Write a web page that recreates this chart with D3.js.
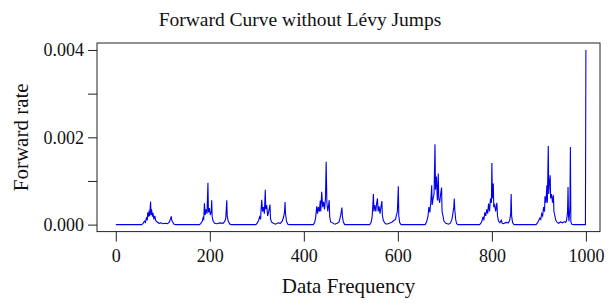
<!DOCTYPE html>
<html>
<head>
<meta charset="utf-8">
<script src="https://cdn.jsdelivr.net/npm/d3@7"></script>
<style>
  body { margin: 0; background: #fff; }
  text { font-family: "Liberation Serif", "Times New Roman", serif; fill: #111; }
</style>
</head>
<body>
<script>
// Forward curve: [data frequency, forward rate]
// baseline is 0 between the bursts
const clusterA = [[0,0],[55,0],[58,0.00003],[61,0.00008],[63,0.00005],[65,0.00015],[67,0.0001],[68,0.00028],[70,0.00018],[71,0.00032],[72,0.0002],[74,0.00053],[75,0.00022],[76,0.00035],[78,0.00018],[79,0.00027],[81,0.00012],[83,0.0002],[85,0.00009],[88,0.00006],[92,0.00003],[96,0.00004],[100,0.00002],[105,0.00003],[110,0.00002],[114,0.00006],[116,0.00012],[118,0.00019],[119,0.0001],[121,0.00006],[124,0.00001],[127,0]];
const clusterB = [[178,0],[181,0.00003],[184,0.00008],[186,0.00018],[187,0.0001],[188.5,0.00049],[190,0.00022],[192,0.00035],[194,0.00025],[196,0.00096],[197,0.00028],[199,0.00038],[201,0.00022],[203,0.0003],[204,0.00056],[205,0.00018],[207,0.00008],[210,0.00003],[215,0.00002],[222,0.00004],[228,0.00003],[232,0.00008],[234,0.00015],[236,0.00056],[237,0.0002],[239,0.00008],[242,0.00002],[245,0]];
const clusterC = [[298,0],[301,0.00004],[304,0.0001],[306,0.00018],[308,0.00012],[309,0.00035],[310.5,0.00057],[312,0.0003],[314,0.0004],[316,0.00025],[318,0.0008],[319,0.00035],[321,0.00045],[323,0.0002],[325,0.00028],[328,0.00046],[329,0.00015],[331,0.00006],[335,0.00003],[340,0.00001],[345,0.00004],[350,0.00003],[354,0.00008],[357,0.00018],[359,0.0003],[360,0.00052],[361,0.00025],[363,0.00008],[366,0.00001],[370,0]];
const clusterD = [[420,0],[423,0.00005],[425,0.00015],[427.5,0.00042],[429,0.00025],[431,0.0004],[433,0.0003],[435,0.00055],[436,0.0003],[438,0.00075],[440,0.0004],[442,0.00052],[444,0.00035],[446,0.0006],[447.5,0.00144],[449,0.0005],[451,0.0003],[454,0.00056],[455,0.00018],[457,0.00006],[461,0.00004],[466,0.00001],[471,0.00003],[475,0.00006],[477,0.00015],[479,0.00025],[481,0.00039],[482,0.0002],[484,0.00006],[487,0]];
const clusterE = [[540,0],[543,0.00005],[545,0.00015],[546,0.0003],[548,0.0007],[549,0.0003],[551,0.00045],[553,0.0003],[555,0.0005],[556.6,0.0006],[558,0.0003],[560,0.00042],[562,0.00025],[564,0.0004],[566,0.00054],[567,0.00022],[569,0.0001],[572,0.00004],[576,0.00001],[582,0.00003],[588,0.00006],[592,0.0001],[595,0.00012],[597,0.00022],[599,0.0003],[601,0.00088],[602,0.0002],[604,0.00004],[607,0]];
const clusterF = [[658,0],[661,0.00006],[664,0.00018],[666,0.0004],[668,0.00028],[670,0.0005],[672,0.0009],[673,0.00045],[675,0.0006],[677,0.0007],[679,0.00184],[680,0.0008],[682,0.0011],[684,0.00055],[686,0.00117],[687,0.0006],[689,0.0005],[691,0.0007],[693,0.00085],[694,0.0003],[696,0.0002],[698,0.00008],[702,0.00003],[708,0.00001],[712,0.00004],[715,0.00012],[717,0.00025],[719,0.0004],[720,0.0006],[721,0.00035],[723,0.00012],[725,0.00002],[728,0]];
const clusterG = [[774,0],[777,0.00004],[779,0.00008],[781,0.00018],[783,0.0001],[785,0.00028],[787,0.0002],[789,0.00035],[791,0.00025],[793,0.00048],[795,0.0003],[797,0.0006],[799,0.0005],[800,0.00141],[801,0.0006],[803,0.00094],[804,0.0004],[806,0.00045],[808,0.0003],[810.5,0.0005],[812,0.0002],[814,0.00008],[817,0.00004],[820,0.0001],[822,0.00003],[825,0.00002],[830,0.00005],[835,0.00004],[838,0.0001],[840,0.00025],[841,0.0007],[842,0.0002],[844,0.00005],[847,0]];
const clusterH = [[894,0],[897,0.00004],[900,0.0001],[902,0.00015],[904,0.00012],[906,0.00025],[908,0.0002],[910,0.0004],[912,0.0003],[913,0.00065],[915,0.0005],[917,0.0009],[918,0.0005],[920,0.0018],[921,0.0007],[922,0.0009],[924,0.00113],[925,0.0006],[927,0.0007],[929,0.0005],[931,0.00067],[932,0.0003],[934,0.0002],[936,0.0001],[939,0.00005],[942,0.00003],[946,0.00006],[950,0.00004],[954,0.00007],[957,0.00005],[959,0.0001],[961,0.0003],[962,0.00086],[963,0.0002],[964,0.00008],[966,0.0004],[967,0.00178],[968,0.00006],[970,0.00001],[975,0],[999,0],[1000,0.004]];

const xTicks = [0, 200, 400, 600, 800, 1000];
const yTicks = [0, 0.001, 0.002, 0.003, 0.004];
const yLabelled = [0, 0.002, 0.004];

const w = 608;
const h = 303;
// plot box (R style, 4% padding on both axes)
const box = {left: 97, right: 600, top: 43, bottom: 231.6};

const dataset = [].concat(clusterA, clusterB, clusterC, clusterD, clusterE, clusterF, clusterG, clusterH);

const xScale = d3.scaleLinear()
                 .domain([-40, 1030])
                 .range([box.left, box.right]);
const yScale = d3.scaleLinear()
                 .domain([-0.00016, 0.00416])
                 .range([box.bottom, box.top]);

const svg = d3.select("body")
              .append("svg")
              .attr("width", w)
              .attr("height", h);

// Title
svg.append("text")
   .attr("x", 300)
   .attr("y", 26)
   .attr("text-anchor", "middle")
   .style("font-size", "19.5px")
   .text("Forward Curve without Lévy Jumps");

// the curve
const line = d3.line()
               .x(d => xScale(d[0]))
               .y(d => yScale(d[1]));

svg.append("path")
   .datum(dataset)
   .attr("d", line)
   .attr("fill", "none")
   .attr("stroke", "#0000ee")
   .attr("stroke-width", 1.1)
   .attr("stroke-linejoin", "miter");

// box
svg.append("rect")
   .attr("x", box.left)
   .attr("y", box.top)
   .attr("width", box.right - box.left)
   .attr("height", box.bottom - box.top)
   .attr("fill", "none")
   .attr("stroke", "#222")
   .attr("stroke-width", 1);

// x axis
const xAxis = d3.axisBottom(xScale)
                .tickValues(xTicks)
                .tickSize(10)
                .tickPadding(8)
                .tickFormat(d3.format("d"));
const gx = svg.append("g")
   .attr("transform", `translate(0, ${box.bottom})`)
   .call(xAxis);
gx.select(".domain").remove();

// y axis
const yAxis = d3.axisLeft(yScale)
                .tickValues(yTicks)
                .tickSize(9)
                .tickPadding(4)
                .tickFormat(d => yLabelled.includes(d) ? d3.format(".3f")(d) : "");
const gy = svg.append("g")
   .attr("transform", `translate(${box.left}, 0)`)
   .call(yAxis);
gy.select(".domain").remove();

svg.selectAll(".tick line").attr("stroke", "#222");
svg.selectAll(".tick text")
   .style("font-family", "'Liberation Serif', serif")
   .style("font-size", "18px")
   .attr("fill", "#111");

// axis titles
svg.append("text")
   .attr("x", (box.left + box.right) / 2)
   .attr("y", 293)
   .attr("text-anchor", "middle")
   .style("font-size", "21px")
   .text("Data Frequency");

svg.append("text")
   .attr("transform", `translate(28, ${(box.top + box.bottom) / 2}) rotate(-90)`)
   .attr("text-anchor", "middle")
   .style("font-size", "21px")
   .text("Forward rate");
</script>
</body>
</html>
